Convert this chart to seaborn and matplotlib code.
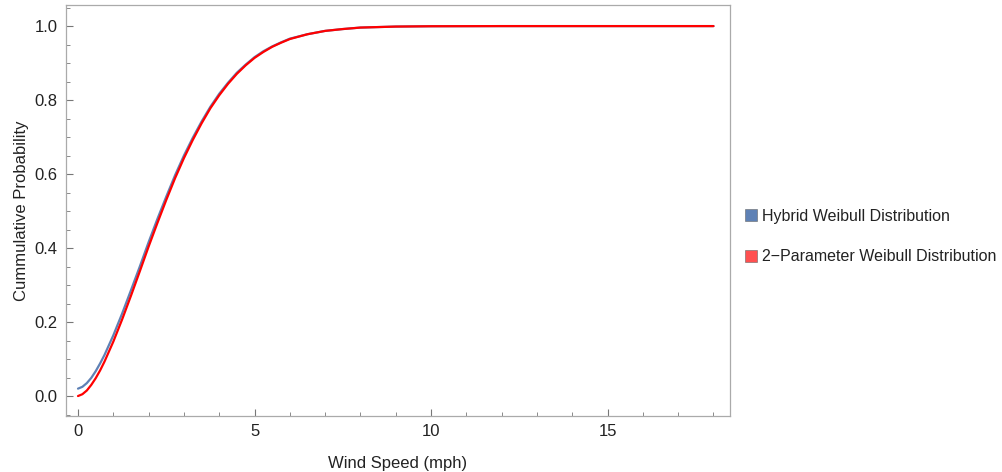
import matplotlib
matplotlib.use("Agg")
import matplotlib.pyplot as plt
from matplotlib.patches import Patch
from matplotlib.ticker import MultipleLocator, FormatStrFormatter
import pandas as pd
import seaborn as sns

# values
wind_speed = [0, 0.125, 0.25, 0.375, 0.5, 0.625, 0.75, 1, 1.25, 1.5, 1.75, 2,
              2.25, 2.5, 2.75, 3, 3.25, 3.5, 3.75, 4, 4.25, 4.5, 4.75, 5, 5.25,
              5.5, 5.75, 6, 6.5, 7, 7.5, 8, 9, 10, 12, 14, 16, 18]
hybrid_cdf = [0.020, 0.025, 0.035, 0.049, 0.067, 0.088, 0.111, 0.164, 0.223,
              0.286, 0.350, 0.416, 0.479, 0.539, 0.597, 0.650, 0.698, 0.742,
              0.782, 0.817, 0.847, 0.874, 0.896, 0.916, 0.932, 0.945, 0.956,
              0.966, 0.978, 0.987, 0.992, 0.996, 0.9987, 0.9996, 1.0, 1.0,
              1.0, 1.0]
weibull2_cdf = [0.000, 0.005, 0.015, 0.030, 0.048, 0.069, 0.093, 0.147, 0.207,
                0.271, 0.337, 0.404, 0.468, 0.530, 0.589, 0.643, 0.692, 0.737,
                0.778, 0.813, 0.844, 0.871, 0.894, 0.914, 0.930, 0.944, 0.955,
                0.965, 0.978, 0.987, 0.992, 0.996, 0.9987, 0.9996, 1.0, 1.0,
                1.0, 1.0]
series_names = ["Hybrid Weibull Distribution", "2\u2212Parameter Weibull Distribution"]
line_colors = ["#5E81B5", "#FF0000"]
swatch_colors = ["#5E81B5", "#FF5050"]

df = pd.concat([
    pd.DataFrame({"speed": wind_speed, "prob": hybrid_cdf, "dist": series_names[0]}),
    pd.DataFrame({"speed": wind_speed, "prob": weibull2_cdf, "dist": series_names[1]}),
])

sns.set_theme(style="white")
plt.rcParams["font.family"] = ["Liberation Sans", "DejaVu Sans"]

fig = plt.figure(figsize=(10.03, 4.72), dpi=100)
ax = fig.add_axes([0.0658, 0.1186, 0.6621, 0.8708])

sns.lineplot(data=df, x="speed", y="prob", hue="dist", palette=line_colors,
             linewidth=1.6, legend=False, ax=ax)

ax.set_xlim(-0.34, 18.47)
ax.set_ylim(-0.054, 1.057)
ax.xaxis.set_major_locator(MultipleLocator(5))
ax.xaxis.set_minor_locator(MultipleLocator(1))
ax.yaxis.set_major_locator(MultipleLocator(0.2))
ax.yaxis.set_minor_locator(MultipleLocator(0.05))
ax.yaxis.set_major_formatter(FormatStrFormatter("%.1f"))

for sp in ax.spines.values():
    sp.set_color("#AAAAAA")
    sp.set_linewidth(0.9)

ax.tick_params(which="both", direction="in", top=False, right=False,
               bottom=True, left=True, color="#777777", labelcolor="#222222",
               labelsize=12)
ax.tick_params(which="major", length=5, width=0.8, pad=6)
ax.tick_params(which="minor", length=3, width=0.6)

ax.set_xlabel("Wind Speed (mph)", fontsize=12, color="#222222", labelpad=12)
ax.set_ylabel("Cummulative Probability", fontsize=12, color="#222222", labelpad=4)

handles = [Patch(facecolor=c, edgecolor="#666666", linewidth=0.4) for c in swatch_colors]
fig.legend(handles, series_names, loc="upper left", bbox_to_anchor=(0.728, 0.588),
           frameon=False, fontsize=11.5, handlelength=0.75, handleheight=0.75,
           handletextpad=0.35, labelspacing=1.6, labelcolor="#222222")

fig.savefig("out.png", dpi=100)
